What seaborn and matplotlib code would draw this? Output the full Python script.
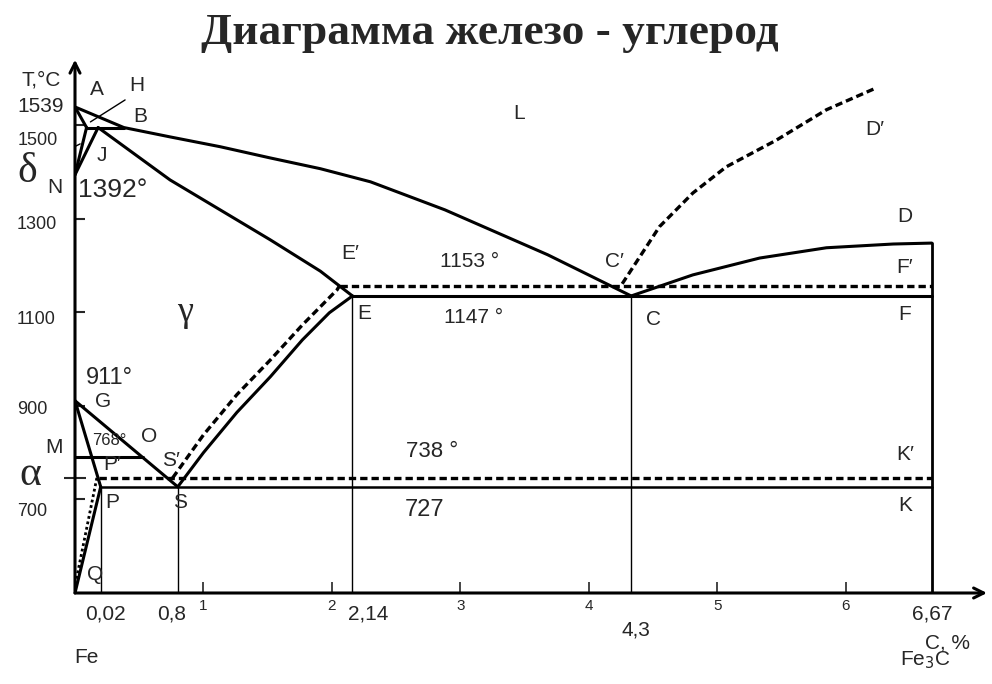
import matplotlib
matplotlib.use('Agg')
import matplotlib.pyplot as plt
import seaborn as sns

# Fe-C diagram, schematic: C in %, T in deg C
liq_x = [0, 0.38, 0.74, 1.13, 1.52, 1.91, 2.30, 2.88, 3.68, 4.33]
liq_t = [1539, 1495, 1475, 1454, 1430, 1407, 1379, 1319, 1223, 1135]

je_x = [0.18, 0.74, 1.13, 1.52, 1.91, 2.16]
je_t = [1495, 1383, 1319, 1255, 1188, 1135]

se_x = [0.8, 1.0, 1.26, 1.52, 1.77, 1.98, 2.16]
se_t = [727, 800, 886, 962, 1041, 1099, 1135]

se2_x = [0.76, 1.0, 1.26, 1.52, 1.77, 2.04, 2.06]
se2_t = [746, 838, 924, 998, 1073, 1148, 1157]

cd_x = [4.33, 4.81, 5.33, 5.85, 6.37, 6.67]
cd_t = [1135, 1180, 1216, 1238, 1246, 1248]

cd2_x = [4.26, 4.55, 4.81, 5.07, 5.46, 5.85, 6.24]
cd2_t = [1161, 1283, 1355, 1411, 1468, 1533, 1580]

# points
A = (0, 1539)
H = (0.09, 1495)
J = (0.18, 1495)
B = (0.38, 1495)
N = (0, 1394)
E = (2.16, 1135)
E2 = (2.06, 1157)
C = (4.33, 1135)
F = (6.67, 1135)
F2 = (6.67, 1157)
D = (6.67, 1248)
G = (0, 911)
O = (0.53, 790)
M = (0, 790)
P = (0.2, 727)
P2 = (0.19, 746)
S = (0.8, 727)
K = (6.67, 727)
K2 = (6.67, 746)
Q = (0, 500)

y_ticks = [1500, 1300, 1100, 900, 700]
x_ticks = [1, 2, 3, 4, 5, 6]

sns.set_style('white')
plt.rcParams['font.family'] = ['Liberation Sans', 'DejaVu Sans']

fig = plt.figure(figsize=(9.92, 6.84), dpi=100)
ax = fig.add_axes([75 / 992, 91 / 684, 912 / 992, 533.3 / 684])
ax.set_xlim(0, 7.1)
ax.set_ylim(500, 1640)
for sp in ax.spines.values():
    sp.set_visible(False)

DASH = (0, (2.2, 1.2))
DOT = (0, (1, 1))


def line(xs, ys, lw=2.2, ls='-'):
    sns.lineplot(x=list(xs), y=list(ys), sort=False, estimator=None, color='black',
                 linewidth=lw, linestyle=ls, ax=ax)


def seg(p1, p2, lw=2.2, ls='-'):
    line([p1[0], p2[0]], [p1[1], p2[1]], lw=lw, ls=ls)


# solid lines
line(liq_x, liq_t)
seg(A, H)
seg(H, B)
seg(H, N)
seg(J, N)
line(je_x, je_t)
seg(E, F)
line(cd_x, cd_t)
seg((6.67, 500), D, lw=2.0)
seg(G, S)
seg(G, P)
seg(P, Q)
seg(M, O)
seg(P, K, lw=1.8)
line(se_x, se_t)

# dashed lines
line(se2_x, se2_t, lw=2.4, ls=DASH)
seg(E2, F2, lw=2.4, ls=DASH)
line(cd2_x, cd2_t, lw=2.4, ls=DASH)
seg(P2, K2, lw=2.4, ls=DASH)
seg((0.17, 746), (0.0, 515), lw=2.0, ls=DOT)

# thin verticals
for xv, yv in [P, S, E, C]:
    seg((xv, 500), (xv, yv), lw=1.0)

# leader lines for H and delta
seg((0.39, 1554), (0.12, 1507), lw=1.0)
seg((-0.26, 1419), (0.04, 1460), lw=1.0)

# axes with arrows
arr = dict(arrowstyle='->', lw=2.2, color='black', mutation_scale=18, shrinkA=0, shrinkB=0)
ax.annotate('', xy=(0, 1640), xytext=(0, 500), arrowprops=arr, annotation_clip=False)
ax.annotate('', xy=(7.1, 500), xytext=(0, 500), arrowprops=arr, annotation_clip=False)

ax.set_yticks(y_ticks)
ax.set_yticklabels([])
ax.set_yticks([746], minor=True)
ax.tick_params(axis='y', which='major', direction='in', length=7, width=1.5, left=True)
ax.tick_params(axis='y', which='minor', direction='inout', length=16, width=1.5, left=True)
ax.set_xticks(x_ticks)
ax.set_xticklabels([str(v) for v in x_ticks], fontsize=11)
ax.tick_params(axis='x', direction='in', length=8, width=1.2, pad=4, bottom=True)

labels = [
    ('T,°C', -0.26, 1597, 15), ('A', 0.17, 1577, 15), ('H', 0.48, 1584, 15),
    ('1539', -0.27, 1539, 15), ('B', 0.51, 1518, 15), ('1500', -0.29, 1468, 13),
    ('J', 0.21, 1436, 15), ('N', -0.16, 1366, 15), ('1300', -0.30, 1287, 13),
    ('L', 3.46, 1526, 15), ('D\u2032', 6.23, 1490, 15), ('D', 6.46, 1304, 15),
    ('E\u2032', 2.14, 1225, 15), ('1153 °', 3.07, 1208, 15), ('C\u2032', 4.20, 1208, 15),
    ('F\u2032', 6.46, 1195, 15), ('E', 2.25, 1097, 15), ('1147 °', 3.10, 1088, 15),
    ('C', 4.50, 1084, 15), ('F', 6.46, 1095, 15), ('1100', -0.30, 1084, 13),
    ('911°', 0.27, 960, 17), ('G', 0.22, 909, 15), ('900', -0.33, 892, 13),
    ('768°', 0.27, 827, 12), ('O', 0.58, 834, 15), ('M', -0.16, 810, 15),
    ('S\u2032', 0.75, 783, 15), ('P\u2032', 0.29, 774, 15), ('738 °', 2.78, 802, 16),
    ('K\u2032', 6.46, 795, 15), ('700', -0.33, 674, 13), ('P', 0.29, 693, 15),
    ('S', 0.82, 693, 15), ('727', 2.72, 678, 17), ('K', 6.46, 686, 15),
    ('Q', 0.16, 539, 15), ('0,02', 0.24, 456, 15), ('0,8', 0.75, 456, 15),
    ('2,14', 2.28, 456, 15), ('4,3', 4.37, 421, 15), ('6,67', 6.67, 456, 15),
    ('C, %', 6.79, 394, 15), ('Fe', 0.09, 362, 15), ('Fe$_3$C', 6.62, 357, 15),
]
for txt, x, y, fs in labels:
    ax.text(x, y, txt, ha='center', va='center', fontsize=fs, clip_on=False)

ax.text(0.02, 1362, '1392°', ha='left', va='center', fontsize=19, clip_on=False)

for txt, x, y, fs in [('δ', -0.37, 1400, 30), ('γ', 0.86, 1099, 26), ('α', -0.35, 753, 30)]:
    ax.text(x, y, txt, ha='center', va='center', fontsize=fs, clip_on=False,
            family=['Liberation Serif', 'DejaVu Serif'])

fig.text(0.494, 0.952, 'Диаграмма железо - углерод', ha='center', va='center',
         fontsize=32.7, fontweight='bold', family=['Liberation Serif', 'DejaVu Serif'])

fig.savefig('out.png', dpi=100)
